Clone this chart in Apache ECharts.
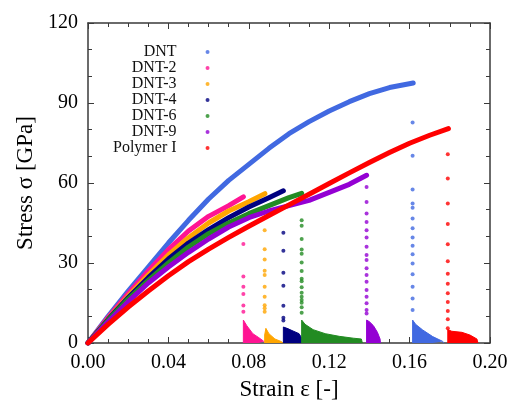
<!DOCTYPE html>
<html>
<head>
<meta charset="utf-8">
<script src="https://cdn.jsdelivr.net/npm/echarts@6/dist/echarts.min.js"></script>
<style>
  html, body { margin: 0; padding: 0; background: #fff; }
  #chart { width: 513px; height: 407px; }
</style>
</head>
<body>
<div id="chart"></div>
<script>
// sample names and colours
var names = ['DNT', 'DNT-2', 'DNT-3', 'DNT-4', 'DNT-6', 'DNT-9', 'Polymer I']
var colors = ['#4169e1', '#ff1493', '#ffa500', '#000080', '#228b22', '#9400d3', '#ff0000']

// loading curves [strain, stress]
var dntCurve = [[0,0],[0.01,10],[0.02,19.5],[0.03,28.5],[0.04,37.5],[0.05,46],[0.06,54],[0.07,61],[0.08,67],[0.09,73],[0.10,78.5],[0.11,83],[0.12,87],[0.13,90.5],[0.14,93.5],[0.15,95.8],[0.1618,97.5]]
var dnt2Curve = [[0,0],[0.01,9.5],[0.02,18.5],[0.03,27],[0.04,35],[0.05,42],[0.06,47.5],[0.07,51.5],[0.0773,54.8]]
var dnt3Curve = [[0,0],[0.01,9],[0.02,17.5],[0.03,25.5],[0.04,33],[0.05,39.5],[0.06,45],[0.07,49.5],[0.08,53],[0.088,56]]
var dnt4Curve = [[0,0],[0.01,8.8],[0.02,17],[0.03,24.5],[0.04,31.5],[0.05,37.5],[0.06,42.5],[0.07,47],[0.08,51],[0.09,54.5],[0.0972,57.1]]
var dnt6Curve = [[0,0],[0.01,8.5],[0.02,16.5],[0.03,23.5],[0.04,30],[0.05,36],[0.06,41],[0.07,45],[0.08,48.5],[0.09,51.5],[0.10,54.5],[0.1063,56.1]]
var dnt9Curve = [[0,0],[0.01,8],[0.02,15.5],[0.03,22.5],[0.04,28.5],[0.05,34],[0.06,39],[0.07,43.5],[0.08,47],[0.09,49.5],[0.10,51.5],[0.11,53.5],[0.12,56.5],[0.13,59.5],[0.1386,62.9]]
var polyCurve = [[0,0],[0.01,7],[0.02,13.5],[0.03,19.5],[0.04,25.2],[0.05,30.5],[0.06,35.2],[0.07,39.6],[0.08,43.8],[0.09,47.8],[0.10,51.8],[0.11,55.8],[0.12,59.8],[0.13,63.8],[0.14,67.7],[0.15,71.4],[0.16,74.9],[0.17,77.9],[0.1793,80.4]]

// stress values of the points during fracture
var dntDrop = [[0.1615,82.7],[0.1615,70.2],[0.1615,57.6],[0.1615,52.3],[0.1615,50.7],[0.1615,46.7],[0.1615,43],[0.1615,39.6],[0.1615,36.5],[0.1615,33.3],[0.1615,29.8],[0.1615,25.8],[0.1615,21.1],[0.1615,16.7],[0.1615,12.4]]
var dnt2Drop = [[0.0773,37.1],[0.0773,24.9],[0.0773,21.1],[0.0773,18.4],[0.0773,14.1],[0.0773,11.7]]
var dnt3Drop = [[0.0879,42.3],[0.0879,35.2],[0.0879,31.3],[0.0879,27.1],[0.0879,25.5],[0.0879,21.1],[0.0879,17.3],[0.0879,14.2],[0.0879,13],[0.0879,11.7]]
var dnt4Drop = [[0.0972,41.3],[0.0972,34.6],[0.0972,26.3],[0.0972,21.5],[0.0972,14],[0.0972,9.5],[0.0972,8.4]]
var dnt6Drop = [[0.1063,46],[0.1063,44],[0.1063,39],[0.1063,35.1],[0.1063,33.5],[0.1063,30.2],[0.1063,27],[0.1063,24.1],[0.1063,23.2],[0.1063,20.9],[0.1063,18.8],[0.1063,17.3],[0.1063,16.1],[0.1063,15.1],[0.1063,13.4],[0.1063,11.3]]
var dnt9Drop = [[0.1386,58.5],[0.1386,52.9],[0.1386,48.6],[0.1386,45.4],[0.1386,42.3],[0.1386,39.6],[0.1386,36.1],[0.1386,33],[0.1386,31.1],[0.1386,28],[0.1386,25.5],[0.1386,23],[0.1386,19.9],[0.1386,17.3],[0.1386,14.9],[0.1386,12.4],[0.1386,11.1]]
var polyDrop = [[0.179,70.8],[0.179,61.7],[0.179,52.3],[0.179,44.6],[0.179,37],[0.179,30.7],[0.179,26],[0.179,22.2],[0.179,18.7],[0.179,15.4],[0.179,12],[0.179,8.9],[0.179,5.5]]

// residual stress after fracture
var dntTail = [[0.1615,0],[0.1615,8.6],[0.163,7],[0.1665,4.9],[0.1715,2.4],[0.1765,0.6],[0.177,0]]
var dnt2Tail = [[0.0773,0],[0.0773,8.6],[0.079,6.5],[0.082,3.5],[0.085,2],[0.0875,0.6],[0.088,0]]
var dnt3Tail = [[0.0879,0],[0.0879,3],[0.0885,5.5],[0.09,3.5],[0.093,1.5],[0.096,0.6],[0.097,0]]
var dnt4Tail = [[0.0972,0],[0.0972,6],[0.099,5.5],[0.102,4.5],[0.105,3.5],[0.107,1],[0.107,0]]
var dnt6Tail = [[0.1063,0],[0.1063,8.6],[0.108,7],[0.112,5],[0.118,3.5],[0.125,2.5],[0.132,1.8],[0.136,1.5],[0.1365,0]]
var dnt9Tail = [[0.1386,0],[0.1386,8.6],[0.140,8],[0.142,6.5],[0.144,4],[0.1453,1.5],[0.1455,0]]
var polyTail = [[0.179,0],[0.179,5],[0.181,4.4],[0.186,4],[0.19,3],[0.1935,1.5],[0.194,0]]

var curves = [dntCurve, dnt2Curve, dnt3Curve, dnt4Curve, dnt6Curve, dnt9Curve, polyCurve]
var drops = [dntDrop, dnt2Drop, dnt3Drop, dnt4Drop, dnt6Drop, dnt9Drop, polyDrop]
var tails = [dntTail, dnt2Tail, dnt3Tail, dnt4Tail, dnt6Tail, dnt9Tail, polyTail]

var xTicks = [0, 0.2, 0.04]  // min, max, interval
var yTicks = [0, 120, 30]

var font = 'Liberation Serif'
var axisColor = '#3a3a3a'

var series = []
names.forEach(function (name, i) {
  series.push({
    name: name, type: 'scatter', data: drops[i], symbolSize: 4,
    itemStyle: { color: colors[i] }, z: 2 + i
  })
  series.push({
    name: name, type: 'line', data: tails[i], showSymbol: false,
    lineStyle: { color: colors[i], width: 1 },
    areaStyle: { color: colors[i], opacity: 1 },
    itemStyle: { color: colors[i] }, z: 2 + i
  })
  series.push({
    name: name, type: 'line', data: curves[i], showSymbol: false, smooth: false,
    lineStyle: { color: colors[i], width: 5, join: 'round', cap: 'round' },
    itemStyle: { color: colors[i] }, z: 2 + i
  })
})

function axisBase() {
  return {
    type: 'value',
    axisLine: { show: true, onZero: false, lineStyle: { color: axisColor, width: 1.5 } },
    axisTick: { show: true, inside: true, length: 6, lineStyle: { color: axisColor } },
    minorTick: { show: true, splitNumber: 4, length: 4, lineStyle: { color: axisColor } },
    splitLine: { show: false },
    axisLabel: { show: false }
  }
}

var xBottom = axisBase()
Object.assign(xBottom, {
  position: 'bottom', min: xTicks[0], max: xTicks[1], interval: xTicks[2],
  name: 'Strain \u03b5 [-]', nameLocation: 'middle', nameGap: 35,
  nameTextStyle: { fontFamily: font, fontSize: 23, color: '#000' }
})
xBottom.axisLabel = { show: true, margin: 10, fontFamily: font, fontSize: 20, color: '#000',
  formatter: function (v) { return v.toFixed(2) } }

var xTop = axisBase()
Object.assign(xTop, { position: 'top', min: xTicks[0], max: xTicks[1], interval: xTicks[2] })

var yLeft = axisBase()
Object.assign(yLeft, {
  position: 'left', min: yTicks[0], max: yTicks[1], interval: yTicks[2],
  name: 'Stress \u03c3 [GPa]', nameLocation: 'middle', nameGap: 50,
  nameTextStyle: { fontFamily: font, fontSize: 23, color: '#000' }
})
yLeft.minorTick.splitNumber = 3
yLeft.axisLabel = { show: true, margin: 10, fontFamily: font, fontSize: 20, color: '#000' }

var yRight = axisBase()
Object.assign(yRight, { position: 'right', min: yTicks[0], max: yTicks[1], interval: yTicks[2] })
yRight.minorTick.splitNumber = 3

var chart = echarts.init(document.getElementById('chart'))
chart.setOption({
  animation: false,
  backgroundColor: '#fff',
  grid: { left: 88, right: 23, top: 23, bottom: 64, outerBoundsMode: 'none' },
  legend: {
    data: names, orient: 'vertical', align: 'right',
    left: 113, top: 44, padding: 0, itemGap: 0,
    icon: 'circle', itemWidth: 52, itemHeight: 4,
    selectedMode: false,
    textStyle: { fontFamily: font, fontSize: 16, fontWeight: 'normal', color: '#111' }
  },
  xAxis: [xBottom, xTop],
  yAxis: [yLeft, yRight],
  series: series
})
</script>
</body>
</html>
